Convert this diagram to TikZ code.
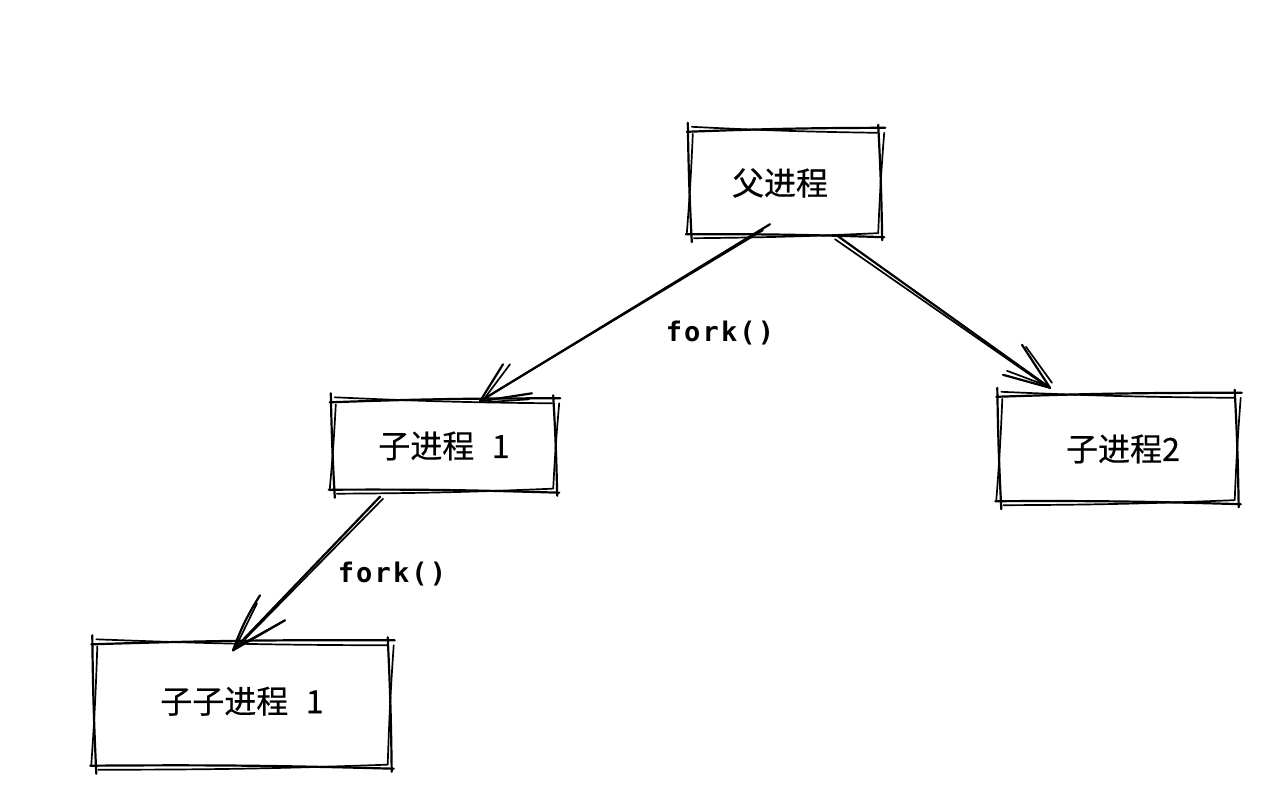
\documentclass[tikz,border=0pt]{standalone}
\usepackage{fontspec}
\newfontfamily\cjk[FakeBold=0.4]{Noto Sans CJK SC}
\newfontfamily\monob[LetterSpace=8]{DejaVu Sans Mono Bold}
\tikzset{
  sk/.style={draw=black, line width=2.2pt, line cap=round, line join=round},
  skt/.style={sk, line width=1.7pt},
  box/.style={rectangle, draw=none, inner sep=0pt, font=\cjk\fontsize{32}{36}\selectfont},
  lbl/.style={font=\monob\fontsize{27}{30}\selectfont, inner sep=0pt},
}
\newcommand{\sketchbox}[1]{%
  \draw[sk] ([shift={(-3,2)}]#1.north west) to[bend left=1] ([shift={(5,-2)}]#1.north east);
  \draw[sk] ([shift={(-2,-5)}]#1.north east) to[bend left=1] ([shift={(2,4)}]#1.south east);
  \draw[sk] ([shift={(4,1)}]#1.south east) to[bend right=1] ([shift={(-4,-2)}]#1.south west);
  \draw[sk] ([shift={(2,6)}]#1.south west) to[bend left=1] ([shift={(-2,-7)}]#1.north west);
  \draw[skt] ([shift={(2,-3)}]#1.north west) to[bend right=1] ([shift={(-3,3)}]#1.north east);
  \draw[skt] ([shift={(4,3)}]#1.north east) to[bend right=1] ([shift={(-2,-3)}]#1.south east);
  \draw[skt] ([shift={(-3,-3)}]#1.south east) to[bend left=1] ([shift={(4,2)}]#1.south west);
  \draw[skt] ([shift={(-3,-3)}]#1.south west) to[bend right=1] ([shift={(3,4)}]#1.north west);
}
\begin{document}
\begin{tikzpicture}[x=1pt,y=-1pt]
\useasboundingbox (0,0) rectangle (1264,800);
\fill[white] (0,0) rectangle (1264,800);

\node[box, minimum width=190, minimum height=106] (p) at (785,183) {\hspace*{-10pt}父进程};
\node[box, minimum width=222, minimum height=91] (c1) at (444,446) {\raisebox{-2pt}{子进程\hspace{0.55em}1}};
\node[box, minimum width=237, minimum height=108] (c2) at (1118,449) {\hspace*{10pt}\raisebox{-9pt}{子进程2}};
\node[box, minimum width=295, minimum height=125] (gc) at (242,705) {\raisebox{10pt}{子子进程\hspace{0.55em}1}};

\sketchbox{p}
\sketchbox{c1}
\sketchbox{c2}
\sketchbox{gc}

% arrow p -> c1
\coordinate (s1) at ([shift={(-15,-12)}]p.south);
\coordinate (t1) at ([shift={(36,1)}]c1.north);
\draw[sk] (s1) -- (t1);
\draw[skt] ([shift={(-7,6)}]s1) -- ([shift={(3,-2)}]t1);
\draw[sk] (t1) -- ++(23,-37);
\draw[skt] ([shift={(3,-1)}]t1) -- ++(27,-36);
\draw[sk] (t1) -- ++(52,-8);
\draw[skt] ([shift={(4,1)}]t1) -- ++(45,-3);

% arrow p -> c2
\coordinate (s2) at ([shift={(53,0)}]p.south);
\coordinate (t2) at ([shift={(-68,-7)}]c2.north);
\draw[sk] (s2) -- (t2);
\draw[skt] ([shift={(-3,3)}]s2) -- ([shift={(-4,-2)}]t2);
\draw[sk] (t2) -- ++(-28,-43);
\draw[skt] ([shift={(2,-5)}]t2) -- ++(-26,-36);
\draw[sk] (t2) -- ++(-47,-13);
\draw[skt] ([shift={(-3,-2)}]t2) -- ++(-40,-15);

% arrow c1 -> gc
\coordinate (s3) at ([shift={(-64,5)}]c1.south);
\coordinate (t3) at ([shift={(-9,8)}]gc.north);
\draw[sk] (s3) -- (t3);
\draw[skt] ([shift={(3,2)}]s3) -- ([shift={(3,-2)}]t3);
\draw[sk] (t3) to[bend left=6] ++(27,-55);
\draw[skt] ([shift={(2,-2)}]t3) -- ++(22,-45);
\draw[sk] (t3) -- ++(52,-30);
\draw[skt] ([shift={(3,-3)}]t3) -- ++(47,-26);

\node[lbl] (l1) at (720,333) {fork()};
\node[lbl] (l2) at (392,574) {fork()};
\end{tikzpicture}
\end{document}
